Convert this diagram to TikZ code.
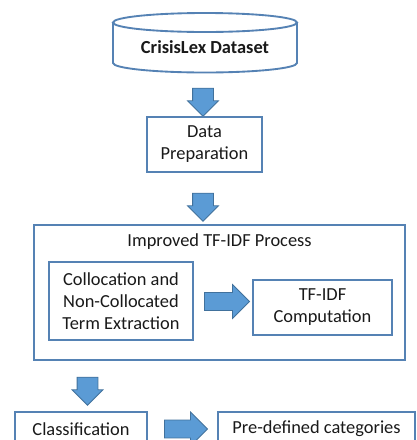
\documentclass[tikz,border=0pt]{standalone}
\usepackage{fontspec}
\setmainfont{Carlito}
\usepackage{tikz}
\usetikzlibrary{shapes.arrows}
\definecolor{boxline}{RGB}{85,130,180}
\definecolor{arrowfill}{RGB}{91,155,213}
\definecolor{arrowline}{RGB}{65,113,156}
\definecolor{textgray}{RGB}{25,25,25}

\begin{document}
\begin{tikzpicture}[
    x=0.75pt, y=-0.75pt,
    font=\fontsize{13.8}{16.5}\selectfont,
    text=textgray,
    stepbox/.style={
        draw=boxline, line width=1pt, align=center, inner sep=2pt
    },
    fat arrow/.style={
        single arrow, draw=arrowline, fill=arrowfill, line width=0.6pt,
        inner xsep=0pt, single arrow tip angle=90
    },
    down arrow/.style={
        fat arrow, rotate=-90, minimum height=21pt,
        inner ysep=7.5pt, single arrow head extend=3.75pt
    },
    right arrow/.style={
        fat arrow, inner ysep=6.4pt, single arrow head extend=6pt
    }
  ]
  \clip (0,0) rectangle (417,440);

  % data source
  \draw[boxline, line width=1.4pt, fill=white]
    (113,22.5) -- (113,63) arc (180:0:92 and 9.5) -- (297,22.5);
  \draw[boxline, line width=1.4pt] (205,22.5) ellipse (92 and 9.5);
  \node (dataset) at (205,47) {\bfseries CrisisLex Dataset};

  \node[down arrow] (arr1) at (203,97) {};

  \node[stepbox, minimum width=86.25pt, minimum height=41.25pt]
    (prep) at (204.5,144.5) {Data\\Preparation};

  \node[down arrow] (arr2) at (203,202) {};

  % improved tf-idf block
  \node[stepbox, minimum width=278.25pt, minimum height=101.25pt]
    (tfidfproc) at (219.5,292.5) {};
  \node (proctitle) at (219.5,242) {Improved TF-IDF Process};

  \node[stepbox, minimum width=108pt, minimum height=58.5pt]
    (colloc) at (121,301) {Collocation and\\Non-Collocated\\Term Extraction};

  \node[right arrow, minimum height=33.75pt] (arr3) at (222.5,301.5) {};

  \node[stepbox, minimum width=104.25pt, minimum height=41.25pt]
    (tfidf) at (322.5,307.5) {TF-IDF\\Computation};

  \node[down arrow] (arr4) at (87.5,386) {};

  % output
  \node[stepbox, minimum width=99pt, minimum height=25.5pt]
    (classif) at (81,429) {Classification};

  \node[right arrow, minimum height=32.25pt] (arr5) at (181.5,429) {};

  \node[stepbox, minimum width=147.75pt, minimum height=25.5pt]
    (categ) at (316.5,429) {Pre-defined categories};

\end{tikzpicture}
\end{document}
